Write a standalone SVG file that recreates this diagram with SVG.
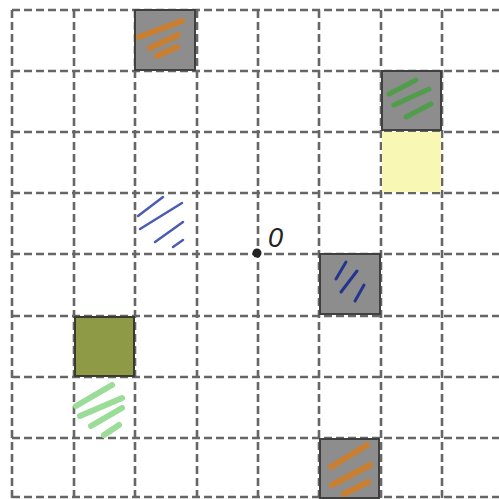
<svg xmlns="http://www.w3.org/2000/svg" width="499" height="499" viewBox="0 0 499 499">
<style>
.grid line{stroke:#666;stroke-width:2.6;stroke-dasharray:8 4}
.gray{fill:#8d8d8d;stroke:#404040;stroke-width:2}
.h{fill:none;stroke-linecap:round}
.or{stroke:#d27c22;stroke-width:6;opacity:.85}
.gr{stroke:#46a040;stroke-width:5;opacity:.85}
.bl{stroke:#4a5cb4;stroke-width:2.5}
.db{stroke:#25348e;stroke-width:3}
.lg{stroke:#9adc98;stroke-width:6}
</style>
<rect width="499" height="499" fill="#fff"/>
<g id="grid" class="grid">
<line x1="12" y1="10" x2="12" y2="499"/>
<line x1="74" y1="10" x2="74" y2="499"/>
<line x1="135" y1="10" x2="135" y2="499"/>
<line x1="197" y1="10" x2="197" y2="499"/>
<line x1="258" y1="10" x2="258" y2="499"/>
<line x1="319" y1="10" x2="319" y2="499"/>
<line x1="381" y1="10" x2="381" y2="499"/>
<line x1="442" y1="10" x2="442" y2="499"/>
<line x1="12" y1="10" x2="499" y2="10"/>
<line x1="12" y1="71" x2="499" y2="71"/>
<line x1="12" y1="132" x2="499" y2="132"/>
<line x1="12" y1="193" x2="499" y2="193"/>
<line x1="12" y1="254" x2="499" y2="254"/>
<line x1="12" y1="316" x2="499" y2="316"/>
<line x1="12" y1="377" x2="499" y2="377"/>
<line x1="12" y1="438" x2="499" y2="438"/>
<line x1="12" y1="497" x2="499" y2="497"/>
</g>
<g id="cell-orange-top">
<rect class="gray" x="135" y="10" width="60" height="60"/>
<path class="h or" d="M139 37 L182 21 M150 48 L178 35 M157 56 L177 47"/>
</g>
<g id="cell-green-gray">
<rect class="gray" x="382" y="71" width="59" height="59"/>
<path class="h gr" d="M389 94 L416 80 M394 105 L429 89 M406 117 L431 104"/>
</g>
<g id="cell-yellow">
<rect x="382" y="132" width="59" height="60" fill="#f8f8b4"/>
</g>
<g id="cell-blue-hatch">
<path class="h bl" d="M138 216 L163 197 M140 229 L182 203 M155 242 L183 222 M173 247 L183 240"/>
</g>
<g id="cell-blue-gray">
<rect class="gray" x="320" y="254" width="60" height="60"/>
<path class="h db" d="M336 279 L346 262 M341 292 L357 271 M355 301 L364 285"/>
</g>
<g id="cell-olive">
<rect x="75" y="317" width="59" height="59" fill="#8e9a46" stroke="#3a3a30" stroke-width="2"/>
</g>
<g id="cell-lightgreen-hatch">
<path class="h lg" d="M76 406 L112 385 M80 416 L122 398 M91 426 L122 408 M104 435 L119 425"/>
</g>
<g id="cell-orange-bottom">
<rect class="gray" x="320" y="439" width="59" height="59"/>
<path class="h or" d="M331 467 L367 445 M332 485 L370 465 M344 494 L368 482"/>
</g>
<g id="origin">
<circle cx="257" cy="253" r="4.5" fill="#222"/>
<text x="268" y="247" font-family="Liberation Sans, sans-serif" font-style="italic" font-size="27" fill="#222">0</text>
</g>
</svg>
